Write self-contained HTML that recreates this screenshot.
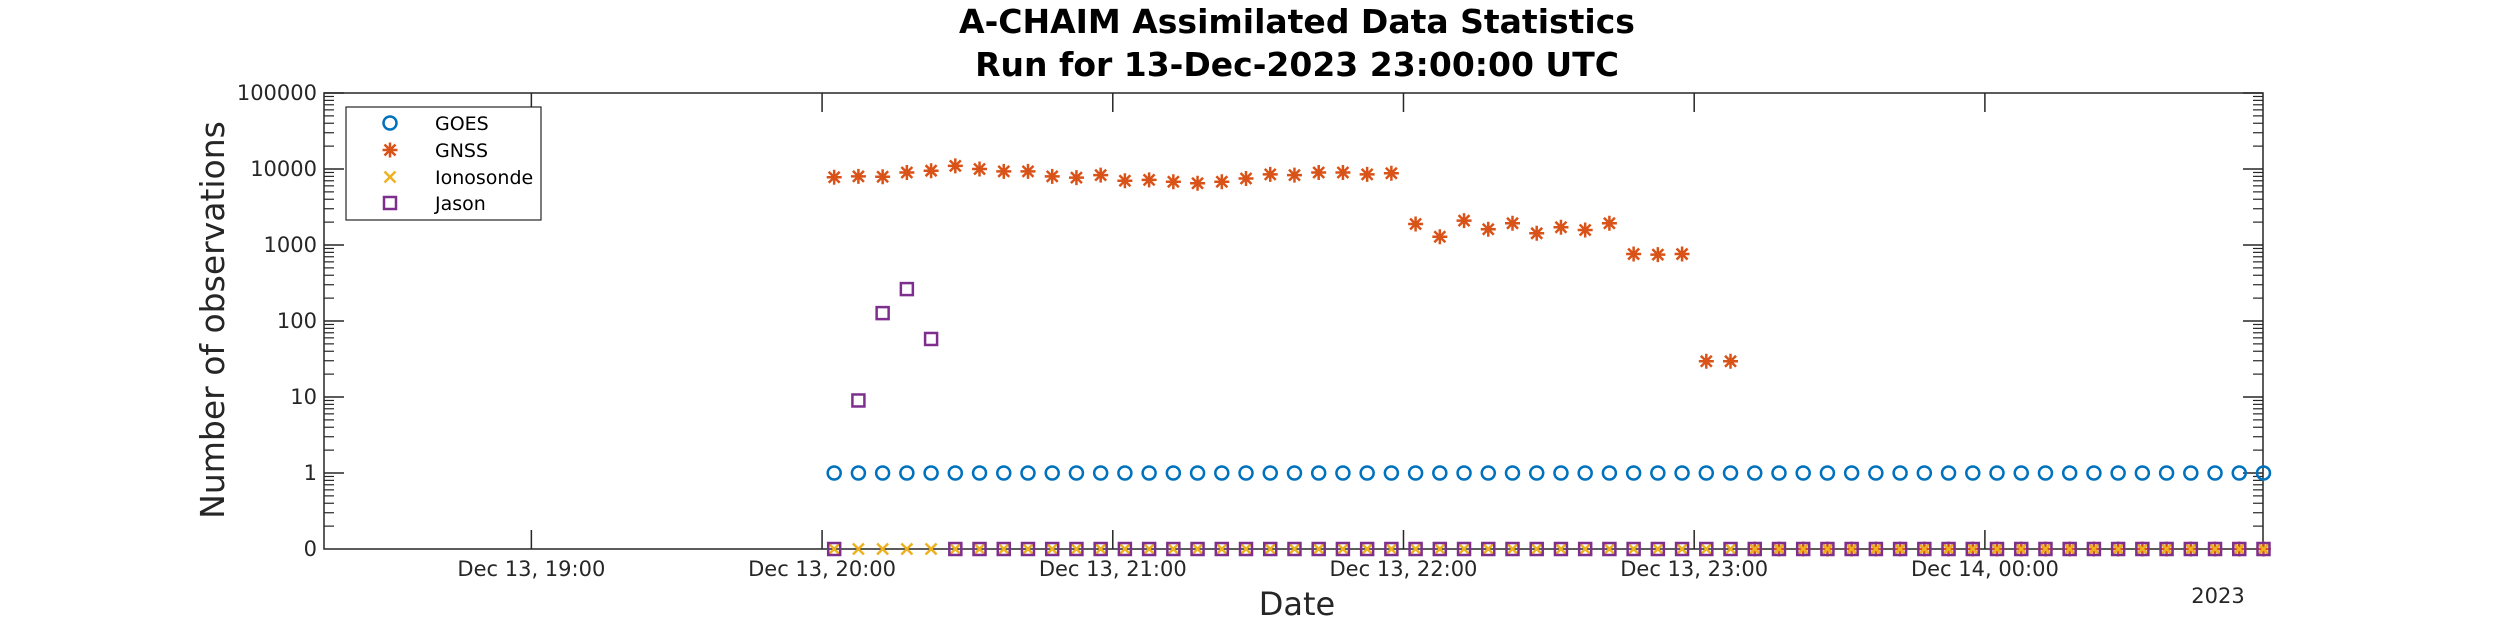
<!DOCTYPE html>
<html><head><meta charset="utf-8"><style>
html,body{margin:0;padding:0;background:#fff;}
svg{display:block;font-family:"DejaVu Sans","Liberation Sans",sans-serif;}
</style></head><body>
<svg id="chart" width="2500" height="625" viewBox="0 0 2500 625" xmlns="http://www.w3.org/2000/svg">
<rect width="2500" height="625" fill="#fff"/>
<text x="1297" y="33" text-anchor="middle" font-size="33" font-weight="bold" fill="#000">A-CHAIM Assimilated Data Statistics</text>
<text x="1297" y="76" text-anchor="middle" font-size="33" font-weight="bold" fill="#000">Run for 13-Dec-2023 23:00:00 UTC</text>
<g id="axes"></g>
<g id="marks"></g>
<text x="1297" y="615" text-anchor="middle" font-size="32" fill="#262626">Date</text>
<text transform="translate(224,320) rotate(-90)" text-anchor="middle" font-size="33" fill="#262626">Number of observations</text>
<text x="2218" y="603" text-anchor="middle" font-size="21" fill="#262626">2023</text>
<g id="legend"></g>
</svg>
<script>
// minutes after Dec 13 20:00 UTC
const times = [];
for (let k = 0; k < 60; k++) times.push(2.5 + 5 * k);
const goes = Array(60).fill(1);
const gnss = [7800,8000,7900,9000,9500,11000,10000,9300,9300,8000,7700,8300,7000,7200,6800,6500,6800,7500,8500,8300,9000,9000,8500,8800,
  1890,1285,2090,1610,1930,1425,1710,1575,1930,760,746,760,29.5,29.5].concat(Array(22).fill(0));
const ionosonde = Array(60).fill(0);
const jason = [0,9,127,263,58].concat(Array(55).fill(0));
const xTickMinutes = [-60,0,60,120,180,240];
const xTickLabels = ["Dec 13, 19:00","Dec 13, 20:00","Dec 13, 21:00","Dec 13, 22:00","Dec 13, 23:00","Dec 14, 00:00"];
const yTickValues = [0,1,10,100,1000,10000,100000];
const yTickLabels = ["0","1","10","100","1000","10000","100000"];

const L=324, R=2263, T=93, B=549;
const xMin=-102.8, xMax=297.4;
function xs(t){return L+(t-xMin)/(xMax-xMin)*(R-L);}
function ys(v){const lv = v<=0 ? -1 : Math.log10(v); return B-(lv+1)/6*(B-T);}
const NS="http://www.w3.org/2000/svg";
function mk(tag,attrs,parent){const e=document.createElementNS(NS,tag);for(const k in attrs)e.setAttribute(k,attrs[k]);parent.appendChild(e);return e;}
const axes=document.getElementById('axes');
const box=mk('rect',{x:L,y:T,width:R-L,height:B-T,fill:'none',stroke:'#262626','stroke-width':1.5},axes);


xTickMinutes.forEach((m,i)=>{
  const x=xs(m);
  const t1=mk('line',{x1:x,x2:x,y1:B,y2:B-19,stroke:'#262626','stroke-width':1.5},axes);
  
  
  const t2=mk('line',{x1:x,x2:x,y1:T,y2:T+19,stroke:'#262626','stroke-width':1.5},axes);
  
  
  const tx=mk('text',{x:x,y:576,'text-anchor':'middle','font-size':21,fill:'#262626'},axes);
  tx.textContent=xTickLabels[i];
  
  
});
yTickValues.forEach((v,i)=>{
  const y=ys(v);
  const tx=mk('text',{x:317,y:y+7,'text-anchor':'end','font-size':21,fill:'#262626'},axes);
  tx.textContent=yTickLabels[i];
  
  
  if(i>0){
    const a=mk('line',{x1:L,x2:L+20,y1:y,y2:y,stroke:'#262626','stroke-width':1.5},axes);
    
    
    const b=mk('line',{x1:R,x2:R-20,y1:y,y2:y,stroke:'#262626','stroke-width':1.5},axes);
    
    
  }
});
for(let d=-1; d<5; d++){
  for(let m=2;m<=9;m++){
    const y=ys(m*Math.pow(10,d));
    const a=mk('line',{x1:L,x2:L+10,y1:y,y2:y,stroke:'#262626','stroke-width':1.2},axes);
    
    
    const b=mk('line',{x1:R,x2:R-10,y1:y,y2:y,stroke:'#262626','stroke-width':1.2},axes);
    
    
  }
}
const C={goes:'#0072BD',gnss:'#D95319',iono:'#EDB120',jason:'#7E2F8E'};
function circle(x,y,p){return mk('circle',{cx:x,cy:y,r:6.5,fill:'none',stroke:C.goes,'stroke-width':2.5},p);}
function star(x,y,p){const s=7.5,d=5.5;return mk('path',{d:`M${x-s},${y}H${x+s}M${x},${y-s}V${y+s}M${x-d},${y-d}L${x+d},${y+d}M${x-d},${y+d}L${x+d},${y-d}`,stroke:C.gnss,'stroke-width':2.5,fill:'none'},p);}
function cross(x,y,p){const s=5.5;return mk('path',{d:`M${x-s},${y-s}L${x+s},${y+s}M${x-s},${y+s}L${x+s},${y-s}`,stroke:C.iono,'stroke-width':2.5,fill:'none'},p);}
function square(x,y,p){return mk('rect',{x:x-6,y:y-6,width:12,height:12,fill:'none',stroke:C.jason,'stroke-width':2.5},p);}
const marks=document.getElementById('marks');
const series=[['goes',goes,circle],['gnss',gnss,star],['ionosonde',ionosonde,cross],['jason',jason,square]];
series.forEach(([name,vals,fn])=>{
  const g=mk('g',{},marks);
  
  
  vals.forEach((v,i)=>{
    const e=fn(xs(times[i]),ys(v),g);
    
    
  });
});
const lg=document.getElementById('legend');
const lb=mk('rect',{x:346,y:107,width:195,height:113,fill:'#fff',stroke:'#262626','stroke-width':1.2},lg);


const entries=[['GOES',circle,123],['GNSS',star,150],['Ionosonde',cross,177],['Jason',square,203]];
entries.forEach(([lab,fn,y])=>{
  const m=fn(390,y,lg);
  
  
  const t=mk('text',{x:435,y:y+7,'font-size':19,fill:'#000'},lg);
  t.textContent=lab;
  
  
});
</script>
</body></html>
